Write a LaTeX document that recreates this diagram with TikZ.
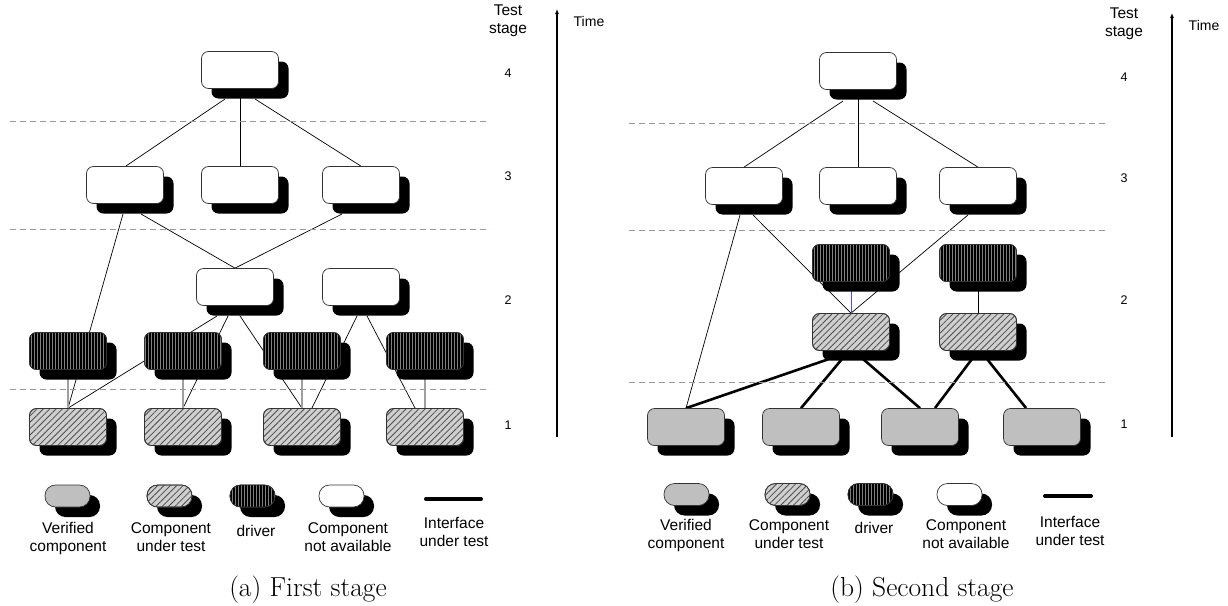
\documentclass[tikz,border=0pt]{standalone}
\usepackage{fontspec}
\setsansfont{Liberation Sans}
\usetikzlibrary{shadows,patterns.meta,arrows.meta,calc}
\pgfdeclarelayer{edges}
\pgfsetlayers{edges,main}

\begin{document}
\begin{tikzpicture}[x=1pt,y=-1pt,
  comp/.style={rounded corners=7pt, minimum width=77pt, minimum height=37pt,
    inner sep=0pt, draw=black!80, line width=0.7pt,
    drop shadow={shadow xshift=10pt, shadow yshift=-10pt, opacity=1, fill=black}},
  absent/.style={comp, fill=white},
  verified/.style={comp, fill=gray!50},
  undertest/.style={comp, fill=gray!38,
    postaction={pattern={Lines[angle=45,distance=4.5pt,line width=0.8pt]}, pattern color=black!70},
    postaction={draw=black!80, line width=0.7pt}},
  driver/.style={comp, fill=black!50,
    postaction={pattern={Lines[angle=90,distance=3pt,line width=1.6pt]}, pattern color=black},
    postaction={draw=black!80, line width=0.7pt}},
  pill/.style={minimum width=45pt, minimum height=22pt, rounded corners=10.5pt},
  link/.style={line width=0.7pt, black},
  stub/.style={line width=1.1pt, gray!75},
  iface/.style={line width=2.6pt, black},
  stageline/.style={dashed, dash pattern=on 6pt off 4pt, line width=0.7pt, gray!80},
  timeaxis/.style={line width=1.2pt, -{Latex[length=5pt,width=4pt]}},
  lbl/.style={font=\sffamily\fontsize{15.5}{18}\selectfont, align=center, inner sep=0pt, anchor=base},
  num/.style={font=\sffamily\fontsize{12.5}{15}\selectfont, inner sep=0pt, anchor=base},
  figcaption/.style={font=\fontsize{27.5}{32}\selectfont, inner sep=0pt, anchor=base}]

\useasboundingbox (0,0) rectangle (1228,605);

% ---------------- (a) first stage ----------------
\foreach \y in {121,229,389} \draw[stageline] (10,\y) -- (490,\y);

\node[absent] (a4)  at (240,70)  {};
\node[absent] (a3a) at (125,185) {};
\node[absent] (a3b) at (240,185) {};
\node[absent] (a3c) at (361,185) {};
\node[absent] (a2a) at (235,287) {};
\node[absent] (a2b) at (361,287) {};
\node[driver] (ad1) at (68,351)  {};
\node[driver] (ad2) at (183,351) {};
\node[driver] (ad3) at (302,351) {};
\node[driver] (ad4) at (425,351) {};
\node[undertest] (ah1) at (68,427)  {};
\node[undertest] (ah2) at (183,427) {};
\node[undertest] (ah3) at (302,427) {};
\node[undertest] (ah4) at (425,427) {};

\begin{pgfonlayer}{edges}
  \draw[link] ($(a4)+(-15,29)$) -- ($(a3a)+(1,-19)$);
  \draw[link] (a4.south) -- (a3b.north);
  \draw[link] ($(a4)+(15,29)$) -- (a3c.north);
  \draw[link] ($(a3a)+(-2,29)$) -- (ah1.north);
  \draw[link] ($(a3a)+(16,29)$) -- (a2a.north);
  \draw[link] ($(a3c)+(-19,29)$) -- (a2a.north);
  \draw[link] ($(a2a)+(-18,29)$) -- (ah1.north);
  \draw[link] ($(a2a)+(-7,29)$) -- (ah2.north);
  \draw[link] ($(a2a)+(5,29)$) -- (ah3.north);
  \draw[link] ($(a2b)+(-4,29)$) -- ($(ah3)+(10,-19)$);
  \draw[link] ($(a2b)+(6,29)$) -- ($(ah4)+(-10,-19)$);
  \foreach \i in {1,2,3,4} \draw[stub] (ad\i.south) -- (ah\i.north);
\end{pgfonlayer}

% the base anchor of a two-line label sits on its last line
\node[lbl] (ats) at (508,33) {Test\\stage};
\node[num] (an4) at (508,77)  {4};
\node[num] (an3) at (508,180) {3};
\node[num] (an2) at (508,304) {2};
\node[num] (an1) at (508,429) {1};
\coordinate (at0) at (557,437);
\coordinate (at1) at (557,9);
\draw[timeaxis] (at0) -- (at1);
\node[lbl, font=\sffamily\fontsize{14}{17}\selectfont] (atime) at (589,27) {Time};

% legend
\node[verified, pill]  (alv) at (67.5,496)  {};
\node[undertest, pill] (alu) at (169.5,496) {};
\node[driver, pill]    (ald) at (252.5,496) {};
\node[absent, pill]    (ala) at (341.5,496) {};
\coordinate (ali0) at (426,499);
\coordinate (ali1) at (481,499);
\draw[line width=4pt, line cap=round] (ali0) -- (ali1);
\node[lbl] at (68,551)  {Verified\\component};
\node[lbl] at (171,551) {Component\\under test};
\node[lbl] at (256,536) {driver};
\node[lbl] at (348,551) {Component\\not available};
\node[lbl] at (454,546) {Interface\\under test};
\node[figcaption] at (308,596) {(a) First stage};

% ---------------- (b) second stage ----------------
\foreach \y in {123,230,382} \draw[stageline] (629,\y) -- (1106,\y);

\node[absent] (b4)  at (858,71)  {};
\node[absent] (b3a) at (744,186) {};
\node[absent] (b3b) at (858,186) {};
\node[absent] (b3c) at (978,186) {};
\node[driver] (bd2a) at (851,263) {};
\node[driver] (bd2b) at (978,263) {};
\node[undertest] (bh2a) at (851,332) {};
\node[undertest] (bh2b) at (978,332) {};
\node[verified] (bg1) at (686,427)  {};
\node[verified] (bg2) at (801,427)  {};
\node[verified] (bg3) at (920,427)  {};
\node[verified] (bg4) at (1042,427) {};

\begin{pgfonlayer}{edges}
  \draw[link] ($(b4)+(-15,30)$) -- (b3a.north);
  \draw[link] (b4.south) -- (b3b.north);
  \draw[link] ($(b4)+(15,30)$) -- (b3c.north);
  \draw[link] ($(b3a)+(-4,29)$) -- (bg1.north);
  \draw[link] ($(b3a)+(9,29)$) -- (bh2a.north);
  \draw[link] ($(b3c)+(-10,29)$) -- (bh2a.north);
  \draw[line width=0.8pt, blue!70] (bd2a.south) -- (bh2a.north);
  \draw[link] (bd2b.south) -- (bh2b.north);
  \draw[iface] ($(bh2a)+(-22,27)$) -- (bg1.north);
  \draw[iface] ($(bh2a)+(-9,27)$) -- (bg2.north);
  \draw[iface] ($(bh2a)+(12,27)$) -- (bg3.north);
  \draw[iface] ($(bh2b)+(-6,27)$) -- ($(bg3)+(15,-19)$);
  \draw[iface] ($(bh2b)+(9,27)$) -- ($(bg4)+(-16,-19)$);
\end{pgfonlayer}

\node[lbl] (bts) at (1124,36) {Test\\stage};
\node[num] (bn4) at (1124,81)  {4};
\node[num] (bn3) at (1124,182) {3};
\node[num] (bn2) at (1124,304) {2};
\node[num] (bn1) at (1124,428) {1};
\coordinate (bt0) at (1172,437);
\coordinate (bt1) at (1172,13);
\draw[timeaxis] (bt0) -- (bt1);
\node[lbl, font=\sffamily\fontsize{14}{17}\selectfont] (btime) at (1204,30) {Time};

% legend
\node[verified, pill]  (blv) at (686.5,494.5) {};
\node[undertest, pill] (blu) at (787.5,494.5) {};
\node[driver, pill]    (bld) at (870.5,494.5) {};
\node[absent, pill]    (bla) at (959.5,494.5) {};
\coordinate (bli0) at (1045,496);
\coordinate (bli1) at (1091,496);
\draw[line width=4pt, line cap=round] (bli0) -- (bli1);
\node[lbl] at (686,548)  {Verified\\component};
\node[lbl] at (789,548)  {Component\\under test};
\node[lbl] at (874,533)  {driver};
\node[lbl] at (966,548)  {Component\\not available};
\node[lbl] at (1070,545) {Interface\\under test};
\node[figcaption] at (922,596) {(b) Second stage};

\end{tikzpicture}
\end{document}
